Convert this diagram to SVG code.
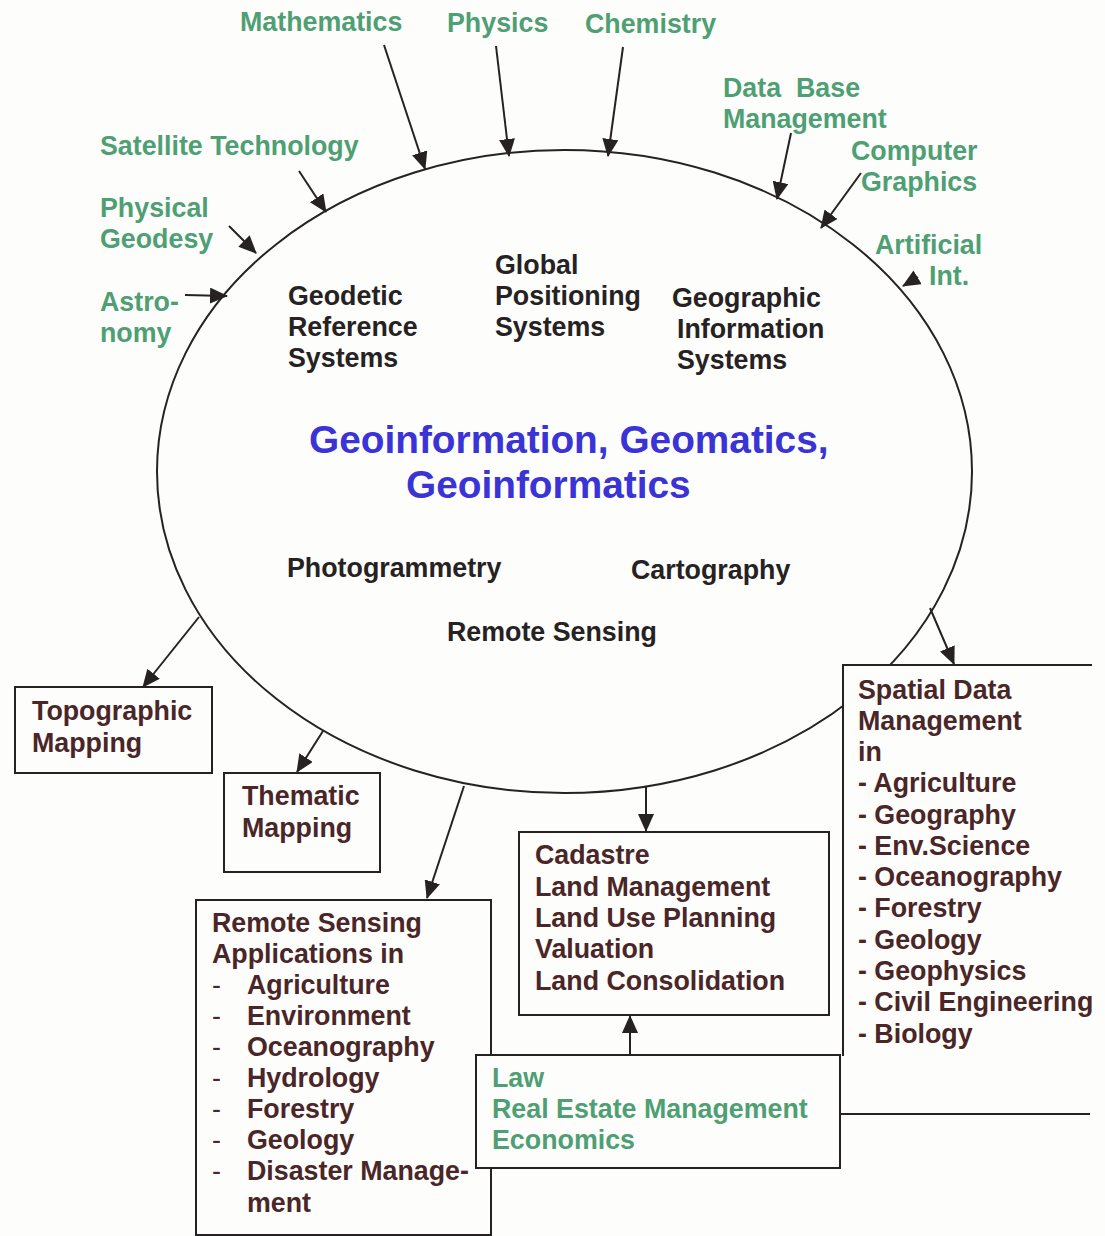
<svg xmlns="http://www.w3.org/2000/svg" width="1105" height="1236" viewBox="0 0 1105 1236">
<style>
text{font-family:"Liberation Sans",Arial,Helvetica,sans-serif;font-weight:bold;font-size:26.8px}
.g{fill:#4f9f74}
.k{fill:#262223}
.b{fill:#4a2628}
.t{fill:#3a33d6;font-size:38.8px}
.d{font-weight:normal;fill:#4a2628}
.box{fill:#fdfdfb;stroke:#262223;stroke-width:2}
.ln{fill:none;stroke:#262223;stroke-width:2}
.ar{fill:none;stroke:#262223;stroke-width:2;marker-end:url(#ah)}
</style>
<defs>
<marker id="ah" markerUnits="userSpaceOnUse" markerWidth="18" markerHeight="16" refX="17" refY="8" orient="auto">
<path d="M0,0 L18,8 L0,16 z" fill="#262223"/>
</marker>
</defs>
<rect width="1105" height="1236" fill="#fdfdfb"/>

<g id="core">
<ellipse class="ln" cx="564.5" cy="471.5" rx="407.5" ry="321.5"/>
<text class="t" x="309" y="453">Geoinformation, Geomatics,</text>
<text class="t" x="406" y="498">Geoinformatics</text>
</g>

<g id="geodetic"><text class="k"><tspan x="288" y="305">Geodetic</tspan><tspan x="288" y="336">Reference</tspan><tspan x="288" y="367">Systems</tspan></text></g>
<g id="gps"><text class="k"><tspan x="495" y="274">Global</tspan><tspan x="495" y="305">Positioning</tspan><tspan x="495" y="336">Systems</tspan></text></g>
<g id="gis"><text class="k"><tspan x="672" y="307">Geographic</tspan><tspan x="677" y="338">Information</tspan><tspan x="677" y="369">Systems</tspan></text></g>
<g id="photogrammetry"><text class="k" x="287" y="577">Photogrammetry</text></g>
<g id="cartography"><text class="k" x="631" y="579">Cartography</text></g>
<g id="remote-sensing"><text class="k" x="447" y="641">Remote Sensing</text></g>

<g id="mathematics"><text class="g" x="240" y="31">Mathematics</text></g>
<g id="physics"><text class="g" x="447" y="32">Physics</text></g>
<g id="chemistry"><text class="g" x="585" y="33">Chemistry</text></g>
<g id="database"><text class="g"><tspan x="723" y="97" xml:space="preserve">Data  Base</tspan><tspan x="723" y="128">Management</tspan></text></g>
<g id="computer-graphics"><text class="g"><tspan x="851" y="160">Computer</tspan><tspan x="861" y="191">Graphics</tspan></text></g>
<g id="ai"><text class="g"><tspan x="875" y="254">Artificial</tspan><tspan x="929" y="285">Int.</tspan></text></g>
<g id="satellite"><text class="g" x="100" y="155">Satellite Technology</text></g>
<g id="physical-geodesy"><text class="g"><tspan x="100" y="217">Physical</tspan><tspan x="100" y="248">Geodesy</tspan></text></g>
<g id="astronomy"><text class="g"><tspan x="100" y="311">Astro-</tspan><tspan x="100" y="342">nomy</tspan></text></g>

<g id="topographic">
<rect class="box" x="15" y="687" width="197" height="86"/>
<text class="b"><tspan x="32" y="720">Topographic</tspan><tspan x="32" y="752">Mapping</tspan></text>
</g>
<g id="thematic">
<rect class="box" x="224" y="773" width="156" height="99"/>
<text class="b"><tspan x="242" y="805">Thematic</tspan><tspan x="242" y="837">Mapping</tspan></text>
</g>
<g id="rs-applications">
<rect class="box" x="196" y="900" width="295" height="335"/>
<text class="b"><tspan x="212" y="932">Remote Sensing</tspan><tspan x="212" y="963">Applications in</tspan></text>
<text class="d"><tspan x="212" y="994">-</tspan><tspan x="212" y="1025">-</tspan><tspan x="212" y="1056">-</tspan><tspan x="212" y="1087">-</tspan><tspan x="212" y="1118">-</tspan><tspan x="212" y="1149">-</tspan><tspan x="212" y="1180">-</tspan></text>
<text class="b"><tspan x="247" y="994">Agriculture</tspan><tspan x="247" y="1025">Environment</tspan><tspan x="247" y="1056">Oceanography</tspan><tspan x="247" y="1087">Hydrology</tspan><tspan x="247" y="1118">Forestry</tspan><tspan x="247" y="1149">Geology</tspan><tspan x="247" y="1180">Disaster Manage-</tspan><tspan x="247" y="1212">ment</tspan></text>
</g>
<g id="cadastre">
<rect class="box" x="519" y="832" width="310" height="183"/>
<text class="b"><tspan x="535" y="864">Cadastre</tspan><tspan x="535" y="896">Land Management</tspan><tspan x="535" y="927">Land Use Planning</tspan><tspan x="535" y="958">Valuation</tspan><tspan x="535" y="990">Land Consolidation</tspan></text>
</g>
<g id="spatial-data">
<path d="M843,665 H1092 V1114 H843 z" fill="#fdfdfb"/>
<path class="ln" d="M1092,665 H843 V1056 M840,1114 H1090"/>
<text class="b"><tspan x="858" y="699">Spatial Data</tspan><tspan x="858" y="730">Management</tspan><tspan x="858" y="761">in</tspan><tspan x="858" y="792">- Agriculture</tspan><tspan x="858" y="824">- Geography</tspan><tspan x="858" y="855">- Env.Science</tspan><tspan x="858" y="886">- Oceanography</tspan><tspan x="858" y="917">- Forestry</tspan><tspan x="858" y="949">- Geology</tspan><tspan x="858" y="980">- Geophysics</tspan><tspan x="858" y="1011">- Civil Engineering</tspan><tspan x="858" y="1043">- Biology</tspan></text>
</g>
<g id="law">
<rect class="box" x="476" y="1055" width="364" height="113"/>
<text class="g"><tspan x="492" y="1087">Law</tspan><tspan x="492" y="1118">Real Estate Management</tspan><tspan x="492" y="1149">Economics</tspan></text>
</g>

<g id="connectors">
<line class="ar" x1="384" y1="45" x2="425" y2="169"/>
<line class="ar" x1="496" y1="46" x2="509" y2="156"/>
<line class="ar" x1="623" y1="47" x2="608" y2="156"/>
<line class="ar" x1="791" y1="133" x2="777" y2="199"/>
<line class="ar" x1="861" y1="173" x2="821" y2="228"/>
<line class="ar" x1="918" y1="277" x2="903" y2="286"/>
<line class="ar" x1="299" y1="171" x2="326" y2="212"/>
<line class="ar" x1="229" y1="226" x2="256" y2="253"/>
<line class="ar" x1="185" y1="295" x2="227" y2="296"/>
<line class="ar" x1="199" y1="617" x2="143" y2="687"/>
<line class="ar" x1="323" y1="731" x2="297" y2="772"/>
<line class="ar" x1="464" y1="786" x2="427" y2="898"/>
<line class="ar" x1="646" y1="787" x2="646" y2="831"/>
<line class="ar" x1="930" y1="608" x2="954" y2="664"/>
<line class="ar" x1="630" y1="1055" x2="630" y2="1016"/>
</g>
</svg>
